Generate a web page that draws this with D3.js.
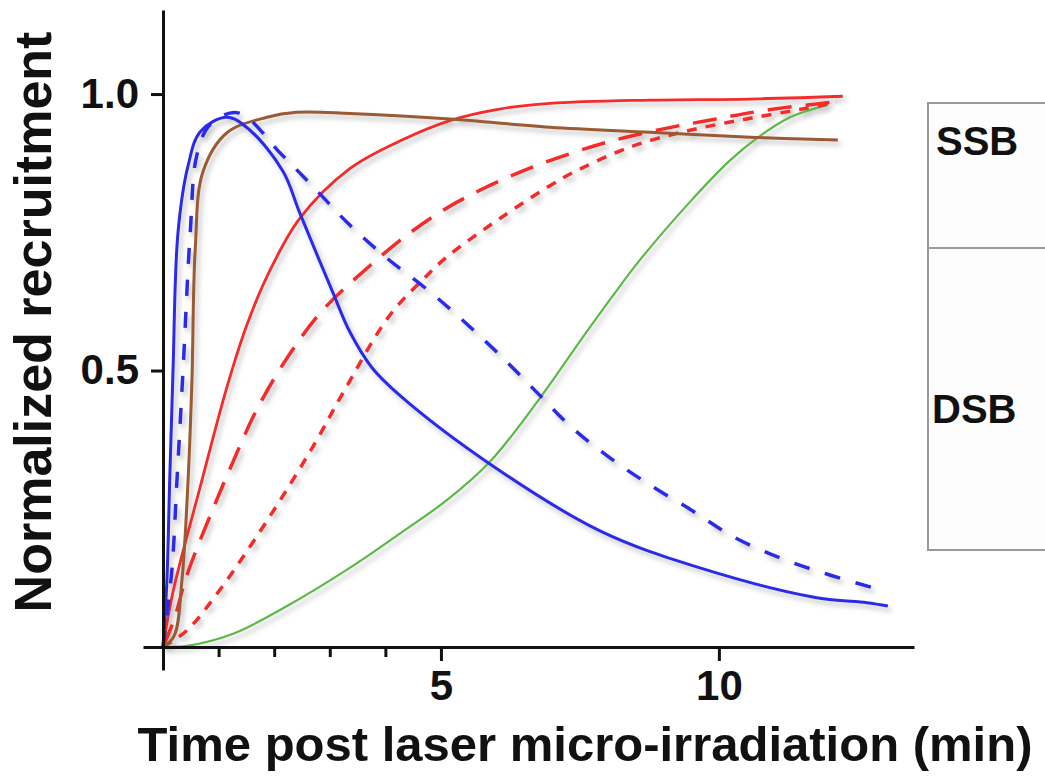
<!DOCTYPE html>
<html>
<head>
<meta charset="utf-8">
<script src="https://cdn.jsdelivr.net/npm/d3@7"></script>
<style>
  html, body { margin: 0; padding: 0; background: #ffffff; }
  svg { display: block; }
  text { font-family: "Liberation Sans", Arial, Helvetica, sans-serif; font-weight: bold; }
</style>
</head>
<body>
<svg id="chart" width="1045" height="779"></svg>
<script>
// ---- data (time in min, normalized recruitment) ----
const blueSolid = [[0,0],[0.07,0.12],[0.12,0.3],[0.18,0.5],[0.27,0.75],[0.45,0.87],[0.67,0.932],[1.15,0.958],[1.56,0.935],[2.16,0.86],[2.46,0.785],[3.06,0.64],[3.36,0.57],[3.76,0.505],[4.26,0.455],[5.88,0.331],[7.86,0.21],[9.66,0.143],[11.76,0.089],[12.66,0.080],[13.04,0.074]];
const blueDashed = [[0,0],[0.16,0.14],[0.25,0.30],[0.36,0.5],[0.49,0.75],[0.61,0.89],[0.85,0.945],[1.35,0.966],[2.14,0.89],[2.77,0.825],[3.36,0.763],[4.03,0.703],[4.77,0.645],[5.4,0.59],[6.06,0.528],[6.73,0.46],[7.32,0.4],[8.04,0.342],[8.76,0.293],[9.53,0.246],[10.25,0.2],[11.1,0.161],[11.94,0.132],[12.84,0.105],[13.0,0.1]];
const brownSolid = [[0,0],[0.2,0.02],[0.34,0.12],[0.45,0.3],[0.52,0.48],[0.58,0.72],[0.72,0.86],[1.15,0.93],[1.87,0.958],[2.4,0.967],[3.36,0.965],[5.16,0.955],[6.96,0.94],[8.76,0.931],[10.56,0.922],[12.14,0.917]];
const redSolid = [[0,0],[0.18,0.1],[0.67,0.29],[1.15,0.47],[1.5,0.58],[1.87,0.67],[2.46,0.775],[3.36,0.865],[4.26,0.915],[5.16,0.952],[6.0,0.972],[6.96,0.983],[8.76,0.989],[10.56,0.991],[12.23,0.996]];
const redLongDash = [[0,0],[0.2,0.05],[0.43,0.13],[0.9,0.25],[1.26,0.335],[1.69,0.43],[2.28,0.53],[2.88,0.61],[3.67,0.685],[4.39,0.745],[5.04,0.79],[5.7,0.826],[6.4,0.858],[7.14,0.886],[7.99,0.913],[9.0,0.937],[9.9,0.954],[10.86,0.971],[12.12,0.986]];
const redShortDash = [[0,0],[0.43,0.03],[0.97,0.096],[1.62,0.19],[2.23,0.285],[2.77,0.375],[3.24,0.46],[4.08,0.6],[4.75,0.672],[5.1,0.705],[6.06,0.775],[7.19,0.848],[7.68,0.873],[8.17,0.895],[8.63,0.912],[9.5,0.935],[10.5,0.955],[11.5,0.973],[12.12,0.985]];
const greenSolid = [[0,0],[0.43,0.002],[1.26,0.024],[2.16,0.07],[3.36,0.143],[4.26,0.205],[5.1,0.265],[5.88,0.335],[6.78,0.45],[7.55,0.56],[8.09,0.635],[8.58,0.7],[9.48,0.805],[10.2,0.88],[10.68,0.92],[11.28,0.958],[11.94,0.98]];

const yTicks = [0.5, 1.0];
const yTickLabels = ["0.5", "1.0"];
const xMajorTicks = [5, 10];
const xMinorTicks = [1, 2, 3, 4];
const legendLabels = ["SSB", "DSB"];

const series = [
  {data: greenSolid,   color: "#5cb847", width: 2.2, dash: null},
  {data: redShortDash, color: "#f52a2a", width: 3.5, dash: "10,9"},
  {data: redLongDash,  color: "#f52a2a", width: 3.5, dash: "24,14"},
  {data: redSolid,     color: "#f52a2a", width: 2.8, dash: null},
  {data: brownSolid,   color: "#9a5a30", width: 3,   dash: null},
  {data: blueDashed,   color: "#2a2ae8", width: 3.5, dash: "16,16"},
  {data: blueSolid,    color: "#2a2ae8", width: 3,   dash: null}
];

const svg = d3.select("#chart");

const defs = svg.append("defs");
const f = defs.append("filter").attr("id", "shadow")
  .attr("x", "-10%").attr("y", "-10%").attr("width", "130%").attr("height", "130%");
f.append("feDropShadow").attr("dx", 3).attr("dy", 4).attr("stdDeviation", 2.5)
  .attr("flood-color", "#777").attr("flood-opacity", 0.45);

const x = d3.scaleLinear().domain([-0.36, 13.51]).range([143, 914]);
const y = d3.scaleLinear().domain([-0.0416, 1.152]).range([670, 10]);

// lines
const line = d3.line().x(d => x(d[0])).y(d => y(d[1])).curve(d3.curveCatmullRom.alpha(0.5));
const lg = svg.append("g").attr("filter", "url(#shadow)");
series.forEach(s => {
  lg.append("path").datum(s.data)
    .attr("d", line)
    .attr("fill", "none")
    .attr("stroke", s.color)
    .attr("stroke-width", s.width)
    .attr("stroke-linejoin", "round")
    .attr("stroke-dasharray", s.dash);
});

// y axis
const yAxis = svg.append("g").attr("transform", `translate(${x(0)},0)`)
  .call(d3.axisLeft(y).tickValues(yTicks).tickFormat((d, i) => yTickLabels[i])
        .tickSize(12).tickSizeOuter(0).tickPadding(12));
// x axis (major)
const xAxis = svg.append("g").attr("transform", `translate(0,${y(0)})`)
  .call(d3.axisBottom(x).tickValues(xMajorTicks).tickFormat(d3.format("d"))
        .tickSize(14).tickSizeOuter(0).tickPadding(9));
// x axis (minor)
const xMinor = svg.append("g").attr("transform", `translate(0,${y(0)})`)
  .call(d3.axisBottom(x).tickValues(xMinorTicks).tickFormat("")
        .tickSize(10).tickSizeOuter(0));
xMinor.select(".domain").remove();

[yAxis, xAxis, xMinor].forEach(g => {
  g.selectAll(".domain").attr("stroke", "#111").attr("stroke-width", 3);
  g.selectAll(".tick line").attr("stroke", "#111").attr("stroke-width", 3);
  g.selectAll(".tick text").attr("fill", "#111").style("font-size", "42px")
    .style("font-weight", "bold").style("font-family", "'Liberation Sans', Arial, sans-serif");
});

// axis titles
svg.append("text")
  .attr("x", 585).attr("y", 761)
  .attr("text-anchor", "middle")
  .attr("fill", "#111")
  .style("font-size", "49px")
  .text("Time post laser micro-irradiation (min)");

svg.append("text")
  .attr("transform", "translate(51,322) rotate(-90)")
  .attr("text-anchor", "middle")
  .attr("fill", "#111")
  .style("font-size", "52px")
  .text("Normalized recruitment");

// legend box (clipped at right edge)
const leg = svg.append("g");
leg.append("rect").attr("x", 928).attr("y", 103).attr("width", 200).attr("height", 447)
  .attr("fill", "#fdfdfd").attr("stroke", "#999").attr("stroke-width", 2);
leg.append("line").attr("x1", 928).attr("x2", 1100).attr("y1", 248).attr("y2", 248)
  .attr("stroke", "#999").attr("stroke-width", 2);
leg.append("text").attr("x", 936).attr("y", 155).attr("fill", "#111")
  .style("font-size", "40px").text(legendLabels[0]);
leg.append("text").attr("x", 932).attr("y", 423).attr("fill", "#111")
  .style("font-size", "40px").text(legendLabels[1]);
</script>
</body>
</html>
